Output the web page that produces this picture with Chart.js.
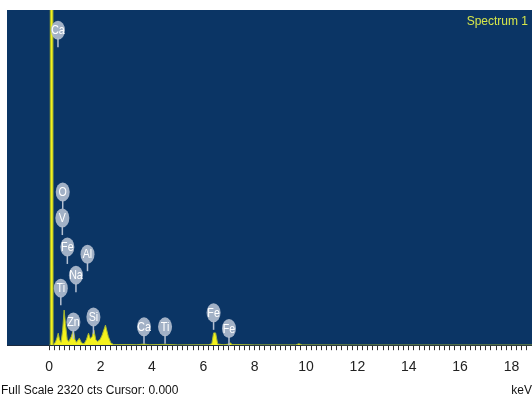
<!DOCTYPE html>
<html>
<head>
<meta charset="utf-8">
<script src="https://cdn.jsdelivr.net/npm/chart.js@4/dist/chart.umd.min.js"></script>
<style>
  html, body { margin: 0; padding: 0; background: #ffffff; }
  #wrap { width: 532px; height: 401px; }
</style>
</head>
<body>
<div id="wrap"><canvas id="spectrum" width="532" height="401"></canvas></div>
<script>
// EDS spectrum: energy (keV) against counts
const energyKeV = [
  0.00, 0.03, 0.04, 0.14, 0.15, 0.18, 0.24, 0.30, 0.35, 0.40, 0.46, 0.52, 0.58, 0.63,
  0.70, 0.76, 0.86, 0.94, 1.00, 1.06, 1.17, 1.26, 1.36, 1.45, 1.53, 1.60, 1.67, 1.74,
  1.81, 1.88, 1.98, 2.06, 2.19, 2.30, 2.40, 2.50, 2.70, 3.00, 3.40, 3.69, 3.90, 4.51,
  5.00, 6.20, 6.33, 6.40, 6.48, 6.56, 6.80, 7.00, 7.06, 7.12, 8.00, 9.60, 9.72, 9.85,
  12.00, 18.80
];
const counts = [
  0, 0, 3200, 3200, 0, 10, 20, 50, 83, 40, 20, 100, 243, 150,
  40, 25, 60, 104, 40, 20, 48, 15, 10, 40, 83, 45, 60, 104,
  40, 25, 40, 70, 139, 60, 15, 5, 4, 5, 3, 8, 3, 6,
  2, 3, 10, 85, 85, 8, 3, 8, 15, 5, 2, 2, 10, 2,
  1, 1
];

// Element markers
const peakNames  = ['Ca', 'O', 'V', 'Fe', 'Al', 'Na', 'Ti', 'Zn', 'Si', 'Ca', 'Ti', 'Fe', 'Fe'];
const peakEnergy = [0.34, 0.525, 0.51, 0.705, 1.49, 1.04, 0.45, 0.94, 1.72, 3.69, 4.51, 6.40, 7.00];
const peakLevel  = [2180, 1060, 880, 680, 630, 485, 395, 161, 196, 127, 127, 224, 116];

const fullScale = 2320;
const energyMin = -1.645;
const energyMax = 18.8;
const tickStep = 0.2;

const spectrumTitle = 'Spectrum 1';
const footerText = 'Full Scale ' + fullScale + ' cts Cursor: 0.000';
const unitText = 'keV';

const NARROW = '"Liberation Sans Narrow", "Arial Narrow", "Liberation Sans", Arial, sans-serif';

const panelBackground = {
  id: 'panelBackground',
  beforeDraw(chart) {
    const { ctx, chartArea: a } = chart;
    ctx.save();
    ctx.fillStyle = '#0b3565';
    ctx.fillRect(a.left, a.top, a.right - a.left, a.bottom - a.top);
    ctx.restore();
  }
};

const elementMarkers = {
  id: 'elementMarkers',
  afterDatasetsDraw(chart) {
    const { ctx, scales } = chart;
    ctx.save();
    peakNames.forEach((name, i) => {
      const x = scales.x.getPixelForValue(peakEnergy[i]);
      const y = scales.y.getPixelForValue(peakLevel[i]);
      ctx.strokeStyle = '#b4c0d2';
      ctx.lineWidth = 1.5;
      ctx.beginPath();
      ctx.moveTo(x, y + 8);
      ctx.lineTo(x, y + 17);
      ctx.stroke();
      ctx.fillStyle = 'rgba(176,188,206,0.92)';
      ctx.beginPath();
      ctx.ellipse(x, y, 7, 9.5, 0, 0, Math.PI * 2);
      ctx.fill();
      // condensed white lettering
      ctx.save();
      ctx.translate(x, y + 0.5);
      ctx.scale(0.82, 1);
      ctx.fillStyle = '#ffffff';
      ctx.font = '13px ' + NARROW;
      ctx.textAlign = 'center';
      ctx.textBaseline = 'middle';
      ctx.fillText(name, 0, 0);
      ctx.restore();
    });
    ctx.restore();
  }
};

const captions = {
  id: 'captions',
  afterDraw(chart) {
    const { ctx, chartArea: a } = chart;
    ctx.save();
    ctx.font = '12px ' + NARROW;
    ctx.textBaseline = 'middle';
    ctx.fillStyle = '#d6e64a';
    ctx.textAlign = 'right';
    ctx.fillText(spectrumTitle, a.right - 4, a.top + 12);
    ctx.fillStyle = '#111111';
    ctx.textAlign = 'left';
    ctx.fillText(footerText, 1, 391);
    ctx.textAlign = 'right';
    ctx.fillText(unitText, 532, 391);
    ctx.restore();
  }
};

new Chart(document.getElementById('spectrum'), {
  type: 'line',
  data: {
    datasets: [{
      data: energyKeV.map((e, i) => ({ x: e, y: counts[i] })),
      borderColor: '#a6b632',
      borderWidth: 1,
      backgroundColor: '#f4f21c',
      fill: 'origin',
      pointRadius: 0,
      tension: 0
    }]
  },
  options: {
    responsive: false,
    animation: false,
    layout: { padding: { left: 7, top: 10, right: 0, bottom: 16 } },
    plugins: { legend: { display: false }, tooltip: { enabled: false } },
    scales: {
      x: {
        type: 'linear',
        min: energyMin,
        max: energyMax,
        afterFit(scale) { scale.paddingRight = 0; scale.paddingLeft = 0; },
        border: { display: true, color: '#1a2a40', width: 1 },
        grid: {
          drawOnChartArea: false,
          drawTicks: true,
          tickLength: 5,
          tickColor: '#333333'
        },
        ticks: {
          stepSize: tickStep,
          autoSkip: false,
          includeBounds: false,
          maxRotation: 0,
          padding: 9,
          color: '#222222',
          font: { family: NARROW, size: 14 },
          callback(v) {
            const r = Math.round(v * 10) / 10;
            if (r < -0.01) return null;
            if (Math.abs(r - Math.round(r)) < 0.01 && Math.round(r) % 2 === 0) return String(Math.round(r));
            return '';
          }
        }
      },
      y: {
        display: false,
        min: 0,
        max: fullScale
      }
    }
  },
  plugins: [panelBackground, elementMarkers, captions]
});
</script>
</body>
</html>
